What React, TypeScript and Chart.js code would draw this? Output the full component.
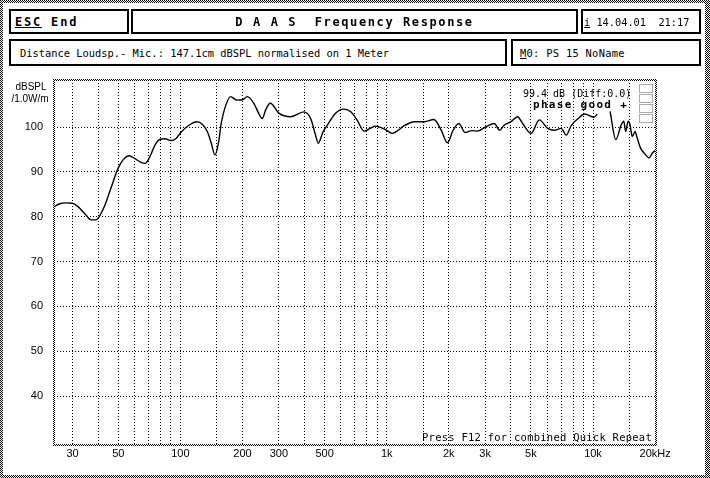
import { useEffect, useRef } from 'react';
import { Chart, registerables } from 'chart.js';

Chart.register(...registerables);

const freqHz = [
  24.4, 26, 28, 30, 32, 34.5, 37, 39, 41, 43, 46, 50, 53, 56.5, 60, 64, 67.5, 71, 75, 79,
  84, 90, 95, 101, 110, 120, 128, 135, 141, 147, 153, 158, 165, 175, 188, 200, 211, 227,
  240, 249, 260, 273, 300, 341, 397, 428, 450, 466, 490, 515, 565, 620, 670, 720, 777, 830,
  884, 972, 1066, 1140, 1216, 1364, 1524, 1694, 1838, 1969, 2100, 2237, 2398, 2585, 2750,
  3033, 3327, 3526, 3705, 4005, 4308, 4560, 5010, 5493, 6030, 6496, 7008, 7420, 7854, 8470,
  9120, 10100, 10500, 11000, 12100, 12900, 13700, 14100, 14400, 14800, 15100, 15500, 16000,
  16300, 17000, 18000, 18700, 19400, 20200,
];
const splDb: (number | null)[] = [
  82.2, 82.9, 83.1, 83.0, 82.2, 80.6, 79.3, 79.3, 80.5, 82.5, 86.3, 90.9, 92.8, 93.6, 93.0,
  92.2, 91.9, 93.3, 95.8, 97.2, 97.4, 97.0, 97.4, 98.9, 100.4, 101.2, 100.6, 99.0, 96.5,
  93.8, 96.5, 101.0, 104.5, 106.8, 106.0, 106.1, 106.8, 105.3, 103.0, 101.9, 104.0, 105.3,
  103.1, 102.3, 103.4, 101.9, 98.5, 96.4, 98.8, 100.4, 103.1, 104.0, 103.4, 101.5, 99.1,
  99.7, 100.2, 99.6, 98.6, 99.3, 100.3, 101.2, 101.2, 101.7, 99.3, 96.5, 99.3, 100.8, 98.8,
  99.2, 99.1, 100.1, 100.8, 99.3, 100.4, 101.2, 102.3, 100.8, 98.6, 101.6, 99.7, 99.3, 99.7,
  98.2, 100.4, 101.9, 102.9, 102.2, 102.9, null, 103.5, 97.2, 100.5, 101.3, 99.0, 101.3,
  100.6, 97.9, 99.0, 97.9, 95.3, 93.8, 93.1, 94.2, 94.9,
];

const gridFreqs = [
  30, 40, 50, 60, 70, 80, 90, 100, 150, 200, 300, 400, 500, 600, 700, 800, 900, 1000, 1500,
  2000, 3000, 4000, 5000, 6000, 7000, 8000, 9000, 10000, 15000, 20000,
];
const labelFreqs = [30, 50, 100, 200, 300, 500, 1000, 2000, 3000, 5000, 10000, 20000];
const labelTexts = ['30', '50', '100', '200', '300', '500', '1k', '2k', '3k', '5k', '10k', '20kHz'];
const dbTicks = [40, 50, 60, 70, 80, 90, 100];

const MONO = '"DejaVu Sans Mono", monospace';

function checker(ctx: CanvasRenderingContext2D) {
  const c = document.createElement('canvas');
  c.width = 2;
  c.height = 2;
  const g = c.getContext('2d')!;
  g.fillStyle = '#fff';
  g.fillRect(0, 0, 2, 2);
  g.fillStyle = '#000';
  g.fillRect(0, 0, 1, 1);
  g.fillRect(1, 1, 1, 1);
  return ctx.createPattern(c, 'repeat')!;
}

const decor = {
  id: 'decor',
  beforeDraw(chart: Chart) {
    const ctx = chart.ctx;
    const w = chart.width;
    const h = chart.height;
    ctx.save();
    ctx.fillStyle = '#fff';
    ctx.fillRect(0, 0, w, h);
    ctx.fillStyle = checker(ctx);
    ctx.fillRect(0, 0, w, 3);
    ctx.fillRect(0, h - 3, w, 3);
    ctx.fillRect(0, 0, 3, h);
    ctx.fillRect(w - 5, 0, 5, h);
    ctx.restore();
  },
  afterDraw(chart: Chart) {
    const ctx = chart.ctx;
    const { left, right, top, bottom } = chart.chartArea;
    ctx.save();
    // stippled frame of the plot
    ctx.fillStyle = checker(ctx);
    ctx.fillRect(left - 1, top - 1, right - left + 2, 2);
    ctx.fillRect(left - 1, bottom, right - left + 2, 2);
    ctx.fillRect(left - 1, top - 1, 2, bottom - top + 3);
    ctx.fillRect(right - 1, top - 1, 2, bottom - top + 3);

    // little stippled indicator, top right
    ctx.strokeStyle = '#555';
    ctx.lineWidth = 1;
    ctx.setLineDash([1, 1]);
    for (let i = 0; i < 4; i++) {
      ctx.strokeRect(639.5, 84.5 + i * 10, 13, 8);
    }
    ctx.setLineDash([]);

    // axis unit
    ctx.fillStyle = '#000';
    ctx.font = '10px "Liberation Sans", sans-serif';
    ctx.textAlign = 'center';
    ctx.textBaseline = 'middle';
    ctx.fillText('dBSPL', 31, 87);
    ctx.fillText('/1.0W/m', 30, 99);

    ctx.textAlign = 'left';
    const c2 = ctx as any;
    ctx.font = `10px ${MONO}`;
    c2.letterSpacing = '0px';
    ctx.fillText('99.4 dB (Diff:0.0)', 523, 94);
    ctx.font = `bold 11px ${MONO}`;
    c2.letterSpacing = '1.3px';
    ctx.fillText('phase good +', 533, 105);
    ctx.font = `10.5px ${MONO}`;
    c2.letterSpacing = '0.25px';
    ctx.fillText('Press F12 for combined Quick Repeat', 422, 438);
    c2.letterSpacing = '0px';
    ctx.restore();
  },
};

const box = (l: number, t: number, w: number, h: number): React.CSSProperties => ({
  position: 'absolute',
  left: l,
  top: t,
  width: w,
  height: h,
  boxSizing: 'border-box',
  border: '2px solid #000',
  display: 'flex',
  alignItems: 'center',
  whiteSpace: 'pre',
  fontFamily: MONO,
  color: '#000',
  background: '#fff',
});

export default function App() {
  const chartRef = useRef<HTMLCanvasElement>(null);

  useEffect(() => {
    if (!chartRef.current) return;
    const chart = new Chart(chartRef.current, {
      type: 'line',
      data: {
        datasets: [
          {
            data: freqHz.map((f, i) => ({ x: f, y: splDb[i] })) as any,
            borderColor: '#000',
            borderWidth: 1.4,
            pointRadius: 0,
            cubicInterpolationMode: 'monotone',
            spanGaps: false,
            fill: false,
          },
        ],
      },
      options: {
        responsive: false,
        animation: false,
        layout: { padding: { top: 80, right: 54, left: 0, bottom: 0 } },
        plugins: { legend: { display: false }, tooltip: { enabled: false } },
        scales: {
          x: {
            type: 'logarithmic',
            min: 24.4,
            max: 20200,
            afterBuildTicks: (s: any) => {
              s.ticks = gridFreqs.map((v) => ({ value: v }));
            },
            afterFit: (s: any) => {
              s.height = 34;
            },
            grid: {
              color: (c: any) => (c.tick && c.tick.value === 20000 ? 'rgba(0,0,0,0)' : '#000'),
              lineWidth: 1,
              drawTicks: false,
            },
            border: { display: false, dash: [1, 2] },
            ticks: {
              autoSkip: false,
              maxRotation: 0,
              padding: 3,
              color: '#000',
              font: { family: '"Liberation Sans", sans-serif', size: 11 },
              callback: (v: any) => {
                const i = labelFreqs.indexOf(Number(v));
                return i >= 0 ? labelTexts[i] : '';
              },
            },
          },
          y: {
            type: 'linear',
            min: 29.3,
            max: 110.5,
            afterBuildTicks: (s: any) => {
              s.ticks = dbTicks.map((v) => ({ value: v }));
            },
            afterFit: (s: any) => {
              s.width = 54;
            },
            grid: { color: '#000', lineWidth: 1, drawTicks: false },
            border: { display: false, dash: [1, 2] },
            ticks: {
              padding: 11,
              color: '#000',
              font: { family: '"Liberation Sans", sans-serif', size: 11 },
            },
          },
        },
      },
      plugins: [decor],
    });
    return () => chart.destroy();
  }, []);

  return (
    <div style={{ position: 'absolute', left: 0, top: 0, width: 710, height: 478, background: '#fff' }}>
      <canvas ref={chartRef} width={710} height={478} style={{ position: 'absolute', left: 0, top: 0 }} />
      <div style={{ ...box(9, 9, 120, 25), paddingLeft: 4, fontSize: 12, fontWeight: 'bold', letterSpacing: '1.8px' }}>
        <span style={{ textDecoration: 'underline' }}>ESC</span> End
      </div>
      <div style={{ ...box(131, 9, 447, 25), justifyContent: 'center', fontSize: 12, fontWeight: 'bold', letterSpacing: '1.6px' }}>
        D A A S  Frequency Response
      </div>
      <div style={{ ...box(581, 9, 120, 25), paddingLeft: 1, fontSize: 10.3 }}>
        <span style={{ textDecoration: 'underline' }}>i</span> 14.04.01  21:17
      </div>
      <div style={{ ...box(9, 39, 498, 27), paddingLeft: 9, fontSize: 10.4 }}>
        Distance Loudsp.- Mic.: 147.1cm dBSPL normalised on 1 Meter
      </div>
      <div style={{ ...box(511, 39, 190, 27), paddingLeft: 7, fontSize: 10.4, letterSpacing: '0.3px' }}>
        <span style={{ textDecoration: 'underline' }}>M</span>0: PS 15 NoName
      </div>
    </div>
  );
}
